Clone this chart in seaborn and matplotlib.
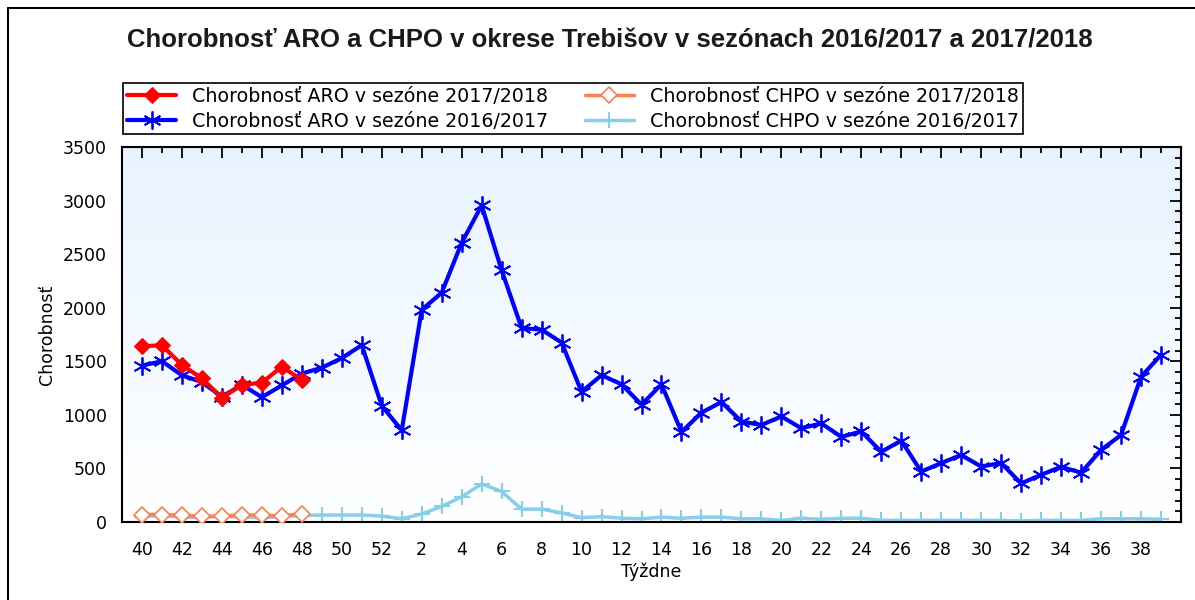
import numpy as np
import pandas as pd
import seaborn as sns
import matplotlib.pyplot as plt
from matplotlib.lines import Line2D
from matplotlib.ticker import FixedLocator, MultipleLocator, NullFormatter

# weeks of the season: 40..52, then 1..39
weeks = list(range(40, 53)) + list(range(1, 40))

aro_1617 = [1460, 1500, 1370, 1305, 1170, 1280, 1165, 1275, 1385, 1440, 1530, 1650, 1085,
            855, 1980, 2140, 2605, 2955, 2350, 1810, 1795, 1675, 1215,
            1370, 1285, 1095, 1285, 840, 1020, 1120, 938, 905, 985,
            875, 920, 795, 845, 655, 760, 470, 550, 625, 518,
            550, 360, 440, 515, 460, 672, 812, 1355, 1560]
aro_1718 = [1640, 1650, 1465, 1340, 1160, 1280, 1300, 1450, 1325]
chpo_1617 = [50, 60, 45, 40, 55, 45, 40, 50, 60, 65, 65, 65, 55,
             30, 75, 145, 235, 355, 285, 120, 120, 85, 40,
             50, 35, 30, 45, 35, 45, 45, 30, 30, 15,
             35, 25, 35, 35, 15, 15, 15, 15, 15, 15,
             15, 10, 15, 15, 15, 30, 30, 30, 25]
chpo_1718 = [70, 70, 62, 55, 55, 68, 62, 58, 78]

lbl_aro_1718 = 'Chorobnosť ARO v sezóne 2017/2018'
lbl_aro_1617 = 'Chorobnosť ARO v sezóne 2016/2017'
lbl_chpo_1718 = 'Chorobnosť CHPO v sezóne 2017/2018'
lbl_chpo_1617 = 'Chorobnosť CHPO v sezóne 2016/2017'

sns.set_style('white')
plt.rcParams['font.family'] = ['DejaVu Sans']
plt.rcParams['text.color'] = 'black'

idx = np.arange(len(weeks))
df_a17 = pd.DataFrame({'i': idx, 'v': aro_1617})
df_a18 = pd.DataFrame({'i': idx[:len(aro_1718)], 'v': aro_1718})
df_c17 = pd.DataFrame({'i': idx, 'v': chpo_1617})
df_c18 = pd.DataFrame({'i': idx[:len(chpo_1718)], 'v': chpo_1718})

fig = plt.figure(figsize=(11.95, 6.0), dpi=100)
ax = fig.add_axes([122 / 1195, 1 - 522 / 600, (1181 - 122) / 1195, (522 - 147) / 600])

# light blue gradient background
grad = np.linspace(0, 1, 256).reshape(-1, 1)
top = np.array([0.91, 0.955, 1.0])
bot = np.array([1.0, 1.0, 1.0])
img = top * (1 - grad[..., None]) + bot * grad[..., None]
img = img.reshape(256, 1, 3)
ax.imshow(img, extent=(-1, 52, 0, 3500), aspect='auto', origin='upper', zorder=0)

sns.lineplot(data=df_c17, x='i', y='v', ax=ax, color='#87ceeb', lw=2.5,
             marker='+', markersize=11, mew=1.5, mec='#87ceeb',
             label=lbl_chpo_1617, zorder=2)
sns.lineplot(data=df_c18, x='i', y='v', ax=ax, color='#ff7f50', lw=2.5,
             marker='D', markersize=8, mfc='white', mec='#ff7f50', mew=1.2,
             label=lbl_chpo_1718, zorder=3)
sns.lineplot(data=df_a17, x='i', y='v', ax=ax, color='#0000ff', lw=3,
             marker=(6, 2, 0), markersize=13, mew=1.3, mec='#0000ff',
             label=lbl_aro_1617, zorder=4)
sns.lineplot(data=df_a18, x='i', y='v', ax=ax, color='#ff0000', lw=3,
             marker='D', markersize=8.5, mec='#ff0000', label=lbl_aro_1718, zorder=5)

ax.set_xlim(-1, 52)
ax.set_ylim(0, 3500)

major_idx = [i for i, w in enumerate(weeks) if w % 2 == 0]
ax.xaxis.set_major_locator(FixedLocator(major_idx))
ax.set_xticklabels([str(weeks[i]) for i in major_idx])
ax.xaxis.set_minor_locator(FixedLocator(list(idx)))
ax.yaxis.set_major_locator(MultipleLocator(500))
ax.yaxis.set_minor_locator(MultipleLocator(100))

ax.tick_params(axis='x', which='major', direction='inout', length=14, width=1.3,
               labelsize=12.5, pad=7, top=False, colors='black')
ax.tick_params(axis='x', which='minor', direction='in', length=5, width=1.3, top=False,
               colors='black')
ax.tick_params(axis='y', which='major', direction='inout', length=16, width=1.3,
               labelsize=12.5, pad=3, right=False, colors='black')
ax.tick_params(axis='y', which='minor', direction='inout', length=6, width=1.3, right=False,
               colors='black')
for s in ax.spines.values():
    s.set_linewidth(1.5)
    s.set_color('black')

# inward ticks on top and right
sx = ax.secondary_xaxis('top')
sx.xaxis.set_major_locator(FixedLocator(major_idx))
sx.xaxis.set_minor_locator(FixedLocator(list(idx)))
sx.xaxis.set_major_formatter(NullFormatter())
sx.tick_params(which='major', direction='in', length=8, width=1.3, colors='black')
sx.tick_params(which='minor', direction='in', length=4, width=1.3, colors='black')
sy = ax.secondary_yaxis('right')
sy.yaxis.set_major_locator(MultipleLocator(500))
sy.yaxis.set_minor_locator(MultipleLocator(100))
sy.yaxis.set_major_formatter(NullFormatter())
sy.tick_params(which='major', direction='in', length=8, width=1.3, colors='black')
sy.tick_params(which='minor', direction='in', length=4, width=1.3, colors='black')

ax.set_xlabel('Týždne', fontsize=12.5, labelpad=2, color='black')
ax.set_ylabel('Chorobnosť', fontsize=12.5, labelpad=5, color='black')

handles, labels = ax.get_legend_handles_labels()
order = [lbl_aro_1718, lbl_aro_1617, lbl_chpo_1718, lbl_chpo_1617]
hmap = dict(zip(labels, handles))
leg = ax.legend([hmap[l] for l in order], order, ncol=2, loc='upper left',
                bbox_to_anchor=(123 / 1195, 1 - 83 / 600),
                bbox_transform=fig.transFigure, borderaxespad=0,
                fontsize=13.7, frameon=True, fancybox=False, edgecolor='black',
                framealpha=1, handlelength=2.6, handletextpad=0.85, columnspacing=1.9,
                labelspacing=0.3, borderpad=0.2, labelcolor='black')
leg.get_frame().set_linewidth(1.2)

fig.text(610 / 1195, 1 - 40 / 600,
         'Chorobnosť ARO a CHPO v okrese Trebišov v sezónach 2016/2017 a 2017/2018',
         ha='center', va='center', fontsize=18.5, fontweight='bold',
         family='Liberation Sans', color='#1a1a1a')

# outer frame lines (left and top)
fig.add_artist(Line2D([8 / 1195, 8 / 1195], [0, 1 - 8 / 600], color='black', lw=1.5,
                      transform=fig.transFigure))
fig.add_artist(Line2D([8 / 1195, 1], [1 - 8 / 600, 1 - 8 / 600], color='black', lw=1.5,
                      transform=fig.transFigure))

fig.savefig('out.png', dpi=100)
